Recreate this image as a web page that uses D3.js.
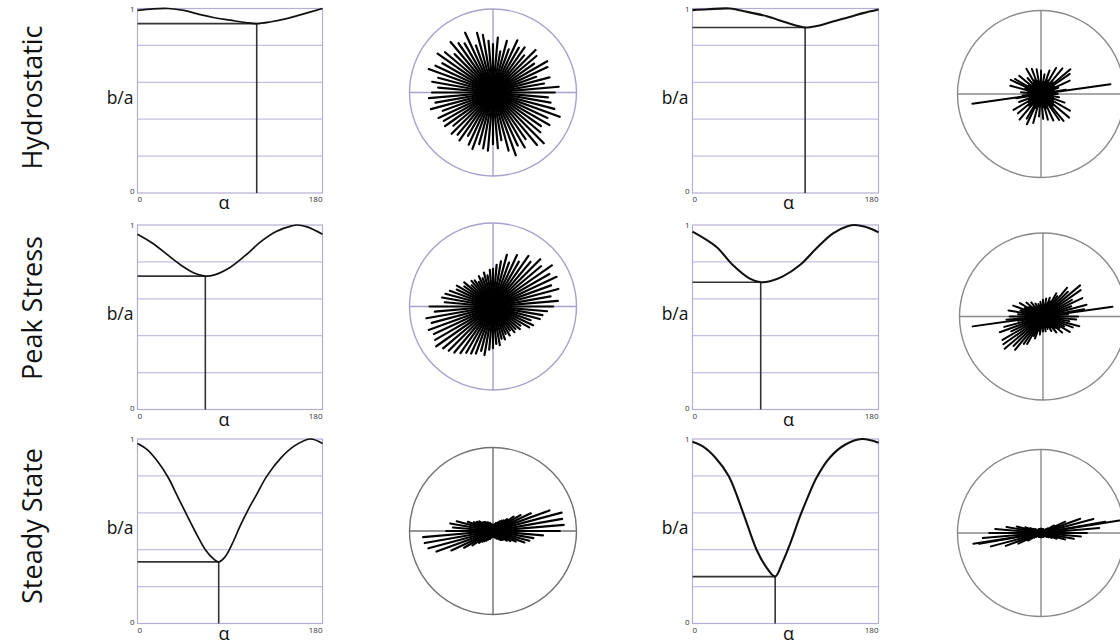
<!DOCTYPE html>
<html><head><meta charset="utf-8">
<script src="https://cdn.jsdelivr.net/npm/d3@7"></script>
<style>body{margin:0;background:#fff;overflow:hidden;} svg{display:block;}</style>
</head><body>
<script>
// ---------- DATA ----------
const rowLabels = ["Hydrostatic", "Peak Stress", "Steady State"];
const xTicks = ["0", "180"];
const yTicks = ["0", "1"];
const gridValues = [0.2, 0.4, 0.6, 0.8];

// b/a versus alpha curves (left column, right column)
const hydroL_alpha = [0, 15, 30, 45, 60, 75, 90, 105, 116, 130, 145, 160, 180];
const hydroL_ba    = [0.99, 0.998, 1.0, 0.99, 0.968, 0.95, 0.937, 0.924, 0.918, 0.928, 0.945, 0.968, 1.0];
const peakL_alpha  = [0, 15, 30, 45, 55, 66, 75, 90, 105, 120, 135, 150, 155, 165, 180];
const peakL_ba     = [0.95, 0.9, 0.835, 0.772, 0.74, 0.723, 0.73, 0.77, 0.835, 0.91, 0.965, 0.995, 1.0, 0.99, 0.95];
const steadyL_alpha = [0, 10, 20, 30, 38, 46, 56, 66, 74, 79, 85, 92, 100, 108, 116, 126, 140, 152, 168, 180];
const steadyL_ba    = [0.976, 0.94, 0.875, 0.79, 0.7, 0.61, 0.5, 0.4, 0.35, 0.334, 0.36, 0.43, 0.53, 0.62, 0.7, 0.8, 0.9, 0.96, 1.0, 0.976];

const hydroR_alpha = [0, 15, 36, 50, 72, 90, 100, 109, 120, 135, 153, 165, 180];
const hydroR_ba    = [0.991, 0.996, 1.0, 0.985, 0.958, 0.925, 0.908, 0.897, 0.905, 0.928, 0.955, 0.975, 0.995];
const peakR_alpha  = [0, 23, 39, 55, 66, 75, 87, 104, 120, 136, 150, 157, 170, 180];
const peakR_ba     = [0.964, 0.882, 0.783, 0.711, 0.69, 0.695, 0.72, 0.783, 0.874, 0.955, 0.993, 1.0, 0.985, 0.96];
const steadyR_alpha = [0, 10, 22, 35, 49, 62, 72, 80, 87, 95, 104, 112, 120, 133, 148, 164, 180];
const steadyR_ba    = [0.985, 0.96, 0.9, 0.8, 0.6, 0.4, 0.3, 0.254, 0.33, 0.44, 0.58, 0.69, 0.79, 0.9, 0.97, 1.0, 0.98];

// minimum markers
const minAlphaL = [116, 66, 79];
const minBaL    = [0.918, 0.723, 0.334];
const minAlphaR = [109, 66, 80];
const minBaR    = [0.897, 0.69, 0.254];

// rose diagrams: ray lengths (fraction of radius) at 5 degree bins, counter-clockwise from east
const roseAngles = d3.range(0, 360, 5);
const roseHydroL = [0.74,0.79,0.62,0.70,0.55,0.72,0.75,0.60,0.68,0.72,0.58,0.66,0.62,0.69,0.55,0.64,0.50,0.66,
  0.58,0.62,0.70,0.74,0.60,0.79,0.68,0.72,0.79,0.65,0.75,0.81,0.70,0.76,0.82,0.68,0.74,0.66,
  0.73,0.77,0.70,0.77,0.64,0.72,0.68,0.70,0.62,0.70,0.66,0.70,0.60,0.69,0.72,0.64,0.68,0.70,
  0.62,0.67,0.58,0.72,0.80,0.70,0.76,0.68,0.82,0.86,0.74,0.70,0.78,0.72,0.85,0.76,0.70,0.66];
const rosePeakL = [0.72,0.78,0.70,0.81,0.74,0.84,0.78,0.86,0.75,0.80,0.70,0.74,0.62,0.68,0.56,0.64,0.55,0.50,
  0.45,0.44,0.38,0.42,0.36,0.40,0.34,0.38,0.40,0.36,0.45,0.42,0.50,0.48,0.55,0.59,0.62,0.58,
  0.76,0.70,0.81,0.76,0.82,0.78,0.80,0.83,0.78,0.75,0.72,0.68,0.64,0.62,0.60,0.55,0.59,0.52,
  0.50,0.45,0.47,0.40,0.42,0.36,0.40,0.35,0.40,0.38,0.42,0.40,0.50,0.53,0.48,0.58,0.60,0.65];
const roseSteadyL = [0.80,0.85,0.84,0.85,0.72,0.50,0.38,0.30,0.22,0.18,0.16,0.14,0.12,0.10,0.10,0.08,0.08,0.07,
  0.07,0.07,0.08,0.08,0.10,0.10,0.12,0.12,0.14,0.15,0.16,0.20,0.22,0.25,0.32,0.45,0.52,0.48,
  0.56,0.84,0.83,0.80,0.72,0.55,0.40,0.30,0.22,0.18,0.16,0.14,0.12,0.10,0.10,0.08,0.07,0.07,
  0.07,0.07,0.07,0.08,0.08,0.10,0.10,0.12,0.14,0.15,0.16,0.20,0.24,0.30,0.40,0.45,0.49,0.60];
const roseHydroR = [0.20,0.14,0.30,0.16,0.22,0.38,0.18,0.42,0.46,0.20,0.40,0.16,0.36,0.18,0.30,0.15,0.24,0.14,
  0.28,0.15,0.30,0.16,0.32,0.18,0.35,0.16,0.25,0.15,0.34,0.18,0.36,0.40,0.20,0.38,0.16,0.24,
  0.15,0.22,0.30,0.14,0.28,0.16,0.38,0.18,0.36,0.20,0.40,0.16,0.34,0.40,0.18,0.36,0.15,0.27,
  0.14,0.30,0.16,0.32,0.18,0.35,0.16,0.38,0.42,0.20,0.44,0.18,0.40,0.16,0.30,0.15,0.22,0.14];
const rosePeakR = [0.42,0.30,0.50,0.54,0.36,0.52,0.40,0.55,0.58,0.42,0.45,0.30,0.32,0.20,0.24,0.16,0.22,0.14,
  0.20,0.13,0.18,0.12,0.16,0.13,0.18,0.14,0.22,0.16,0.26,0.20,0.32,0.24,0.38,0.28,0.42,0.30,
  0.40,0.44,0.30,0.48,0.55,0.42,0.56,0.58,0.60,0.50,0.52,0.40,0.38,0.26,0.28,0.18,0.22,0.14,
  0.18,0.13,0.18,0.12,0.16,0.14,0.20,0.16,0.25,0.20,0.30,0.24,0.37,0.28,0.38,0.45,0.32,0.40];
const roseSteadyR = [0.55,0.70,0.78,0.65,0.50,0.32,0.18,0.10,0.07,0.05,0.05,0.05,0.05,0.05,0.05,0.05,0.05,0.05,
  0.05,0.05,0.05,0.05,0.05,0.05,0.05,0.05,0.05,0.05,0.06,0.08,0.10,0.14,0.20,0.30,0.42,0.55,
  0.62,0.70,0.75,0.62,0.45,0.30,0.18,0.10,0.07,0.05,0.05,0.05,0.05,0.05,0.05,0.05,0.05,0.05,
  0.05,0.05,0.05,0.05,0.05,0.05,0.05,0.05,0.05,0.05,0.06,0.08,0.10,0.14,0.20,0.30,0.40,0.48];
// single long rays in the right-hand roses
const extraAngleR = [[8, 188], [8, 188], [9, 189]];
const extraLenR   = [[0.84, 0.83], [0.84, 0.85], [0.95, 0.82]];

// ---------- LAYOUT ----------
const W = 1120, H = 643;
const svg = d3.select("body").append("svg").attr("width", W).attr("height", H);
const FONT = "'Open Sans', 'Noto Sans', sans-serif";

const chartLeft = [137.5, 692.5];
const chartW = [185, 186];
const rowTop = [8.5, 225, 439];
const chartH = 184.5;
const alphaOffset = [-6, 3];

const roseCx = [[493, 1041], [493, 1043], [493, 1041]];
const roseCy = [[92.5, 94], [306.5, 316.5], [531, 533]];
const roseR = 83.5;
const roseCircleColor = [["#a7a2cc", "#8a8a8a"], ["#a7a2cc", "#8a8a8a"], ["#707070", "#8a8a8a"]];
const rayWidth = [2.2, 2.0];

const curves = [
  [[hydroL_alpha, hydroL_ba], [hydroR_alpha, hydroR_ba]],
  [[peakL_alpha, peakL_ba], [peakR_alpha, peakR_ba]],
  [[steadyL_alpha, steadyL_ba], [steadyR_alpha, steadyR_ba]]
];
const roses = [[roseHydroL, roseHydroR], [rosePeakL, rosePeakR], [roseSteadyL, roseSteadyR]];
const mins = [[minAlphaL, minBaL], [minAlphaR, minBaR]];

// row labels
const labelY = [97.5, 308, 526];
rowLabels.forEach((t, i) => {
  svg.append("text").attr("transform", `translate(42,${labelY[i]}) rotate(-90)`)
    .attr("text-anchor", "middle").attr("font-family", FONT).attr("font-size", 27)
    .attr("fill", "#111").text(t);
});

function drawChart(row, col) {
  const L = chartLeft[col], T = rowTop[row], Wd = chartW[col];
  const x = d3.scaleLinear().domain([0, 180]).range([L, L + Wd]);
  const y = d3.scaleLinear().domain([0, 1]).range([T + chartH, T]);
  const g = svg.append("g");
  const gridC = "#c3bfe0";
  g.selectAll(".grid").data(gridValues).enter().append("line")
    .attr("x1", x(0)).attr("x2", x(180)).attr("y1", d => y(d)).attr("y2", d => y(d))
    .attr("stroke", gridC).attr("stroke-width", 1.2);
  g.append("rect").attr("x", x(0)).attr("y", y(1)).attr("width", x(180) - x(0)).attr("height", y(0) - y(1))
    .attr("fill", "none").attr("stroke", "#b3aed6").attr("stroke-width", 1.2);
  // min markers
  const ma = mins[col][0][row], mb = mins[col][1][row];
  g.append("line").attr("x1", x(0)).attr("x2", x(ma)).attr("y1", y(mb)).attr("y2", y(mb))
    .attr("stroke", "#333").attr("stroke-width", 1.6);
  g.append("line").attr("x1", x(ma)).attr("x2", x(ma)).attr("y1", y(0)).attr("y2", y(mb))
    .attr("stroke", "#333").attr("stroke-width", 1.6);
  // curve
  const [as, bs] = curves[row][col];
  const pts = as.map((a, i) => [a, bs[i]]);
  g.append("path").datum(pts)
    .attr("d", d3.line().x(d => x(d[0])).y(d => y(d[1])).curve(d3.curveCatmullRom.alpha(0.5)))
    .attr("fill", "none").attr("stroke", "#111").attr("stroke-width", col === 0 ? 1.7 : 2.1);
  // tick labels
  const tf = 8;
  g.append("text").attr("x", x(0) - 3).attr("y", y(1) + 3).attr("text-anchor", "end")
    .attr("font-family", FONT).attr("font-size", tf).attr("fill", "#333").text(yTicks[1]);
  g.append("text").attr("x", x(0) - 3).attr("y", y(0) + 1).attr("text-anchor", "end")
    .attr("font-family", FONT).attr("font-size", tf).attr("fill", "#333").text(yTicks[0]);
  g.append("text").attr("x", x(0)).attr("y", y(0) + 9).attr("text-anchor", "start")
    .attr("font-family", FONT).attr("font-size", tf).attr("fill", "#333").text(xTicks[0]);
  g.append("text").attr("x", x(180)).attr("y", y(0) + 9).attr("text-anchor", "end")
    .attr("font-family", FONT).attr("font-size", tf).attr("fill", "#333").text(xTicks[1]);
  // axis titles
  g.append("text").attr("x", x(90) + alphaOffset[col]).attr("y", y(0) + 16).attr("text-anchor", "middle")
    .attr("font-family", FONT).attr("font-size", 18).attr("fill", "#111").text("α");
  g.append("text").attr("x", x(0) - 4).attr("y", (y(0) + y(1)) / 2 + 3).attr("text-anchor", "end")
    .attr("font-family", FONT).attr("font-size", 17.5).attr("fill", "#111").text("b/a");
}

function drawRose(row, col) {
  const cx = roseCx[row][col], cy = roseCy[row][col];
  const rs = d3.scaleLinear().domain([0, 1]).range([0, roseR]);
  const g = svg.append("g").attr("transform", `translate(${cx},${cy})`);
  const cc = roseCircleColor[row][col];
  g.append("circle").attr("r", rs(1)).attr("fill", "none").attr("stroke", cc).attr("stroke-width", 1.4);
  g.append("line").attr("x1", -rs(1)).attr("x2", rs(1)).attr("stroke", cc).attr("stroke-width", 1.4);
  g.append("line").attr("y1", -rs(1)).attr("y2", rs(1)).attr("stroke", cc).attr("stroke-width", 1.4);
  const lens = roses[row][col];
  const rays = roseAngles.map((a, i) => ({a, l: lens[i]}));
  if (col === 1) {
    extraAngleR[row].forEach((a, i) => rays.push({a, l: extraLenR[row][i], thin: true}));
  }
  g.selectAll(".ray").data(rays).enter().append("line")
    .attr("x1", 0).attr("y1", 0)
    .attr("x2", d => rs(d.l) * Math.cos(d.a * Math.PI / 180))
    .attr("y2", d => -rs(d.l) * Math.sin(d.a * Math.PI / 180))
    .attr("stroke", "#000").attr("stroke-width", d => d.thin ? 2 : rayWidth[col]).attr("stroke-linecap", "round");
}

for (let r = 0; r < 3; r++) {
  for (let c = 0; c < 2; c++) {
    drawChart(r, c);
    drawRose(r, c);
  }
}
</script>
</body></html>
